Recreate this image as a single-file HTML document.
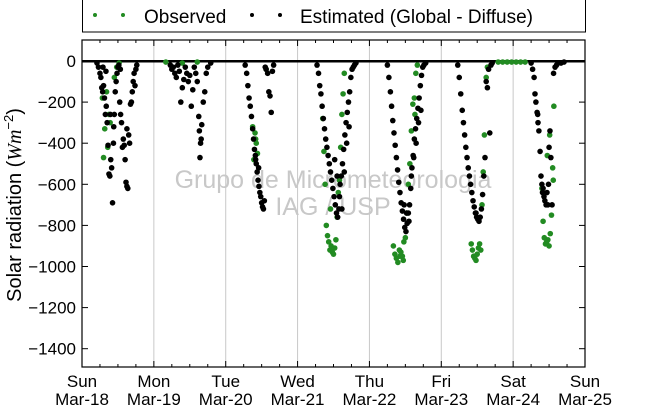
<!DOCTYPE html>
<html><head><meta charset="utf-8"><style>
body{margin:0;background:#fff;font-family:"Liberation Sans","DejaVu Sans",sans-serif}
svg text{font-family:"Liberation Sans","DejaVu Sans",sans-serif}
</style></head><body>
<svg id="c" width="650" height="409" xmlns="http://www.w3.org/2000/svg">
<rect width="650" height="409" fill="#fff"/>
<g>
<rect x="82.5" y="-1" width="503" height="33" fill="#fff" stroke="#000" stroke-width="1"/>
<circle cx="95" cy="15" r="2" fill="#228b22"/><circle cx="123" cy="15" r="2" fill="#228b22"/>
<text x="144" y="23" font-size="19">Observed</text>
<circle cx="252" cy="15" r="2" fill="#000"/><circle cx="280" cy="15" r="2" fill="#000"/>
<text x="300" y="23" font-size="19">Estimated (Global - Diffuse)</text>
</g>
<g id="grid"></g>
<text x="333" y="188" text-anchor="middle" font-size="25" fill="#c8c8c8">Grupo de Micrometeorologia</text>
<text x="333" y="215" text-anchor="middle" font-size="25" fill="#c8c8c8">IAG / USP</text>
<rect x="82" y="60" width="503" height="2.5" fill="#000"/>
<g id="obs"></g><g id="est"></g>
<rect x="82" y="40" width="503" height="327" fill="none" stroke="#000" stroke-width="1.2"/>
<g id="axes"></g>
<text transform="translate(21,205) rotate(-90)" text-anchor="middle" font-size="20">Solar radiation (<tspan font-style="italic" font-family="Liberation Serif">Wm</tspan><tspan dy="-8" font-size="13">−2</tspan><tspan dy="8">)</tspan></text>
</svg>
<script>
const yTicks=[0,-200,-400,-600,-800,-1000,-1200,-1400];
const dayLabels=["Sun","Mon","Tue","Wed","Thu","Fri","Sat","Sun"];
const dateLabels=["Mar-18","Mar-19","Mar-20","Mar-21","Mar-22","Mar-23","Mar-24","Mar-25"];
const estT=[
5,5.5,6,6.3,6.6,6.9,7.2,7.5,7.8,8.1,
8.4,8.7,9,9.3,9.6,9.9,10.2,10.5,10.8,11.1,
11.4,11.7,12,12.3,12.6,12.9,13.2,13.5,13.8,14.1,
14.4,14.7,15,15.3,15.6,15.9,16.2,16.5,16.8,17.1,
17.4,17.7,18,18.3,7,8,9.5,10.6,12.8,15,
29.5,30,30.5,31,31.5,32,32.5,33,33.5,34,
34.5,35,35.5,36,36.5,37,37.5,38,38.5,39,
39.2,39.4,39.6,39.8,40,40.5,41,41.5,42,43,
54.5,55,55.4,55.8,56.2,56.6,57,57.3,57.6,57.9,
58.2,58.5,58.8,59.1,59.4,59.7,60,60.3,60.6,60.9,
61.2,61.5,62,62.4,62.8,63.2,63.6,64,59,58,
78.5,79,79.4,79.8,80.2,80.6,81,81.4,81.8,82.2,
82.6,83,83.4,83.8,84.2,84.6,85,85.4,85.8,86.2,
86.6,87,87.4,87.8,88.2,88.6,89,89.4,89.8,90.2,
84.4,85.2,86,86.8,87.6,88.4,89.2,90.6,91,91.5,
102,102.5,103,103.4,103.8,104.2,104.6,105,105.4,105.8,
106.2,106.6,107,107.4,107.8,108.2,108.6,109,109.4,109.8,
110.2,110.6,111,111.4,111.8,112.2,112.6,113,113.4,113.8,
107.6,108.4,109.2,110,110.8,111.6,112.4,113.2,114.2,114.8,
125.5,126,126.5,127,127.4,127.8,128.2,128.6,129,129.4,
129.8,130.2,130.6,131,131.4,131.8,132.2,132.6,133,133.4,
133.8,134.2,134.6,135,135.4,135.8,136.2,136.6,137,131.6,
150,150.5,151,151.3,151.6,152,152.3,152.6,153,153.3,
153.6,154,154.3,154.6,155,155.3,155.6,156,156.3,156.6,
157,157.5,158,158.5,159,152.2,153.8,155.8,160,161];
const estV=[
-10,-30,-60,-80,-130,-150,-120,-180,-260,-220,
-300,-410,-550,-560,-480,-520,-690,-400,-260,-150,
-100,-60,-30,-20,-200,-260,-300,-420,-380,-410,
-480,-590,-610,-620,-360,-400,-210,-200,-150,-100,
-60,-120,-40,-20,-30,-50,-260,-320,-40,-330,
-20,-40,-30,-60,-80,-20,-50,-200,-130,-90,
-30,-60,-100,-70,-220,-140,-30,-60,-100,-270,
-340,-470,-400,-380,-310,-200,-150,-60,-30,-10,
-20,-60,-120,-180,-220,-270,-330,-380,-430,-460,
-500,-540,-580,-610,-640,-660,-690,-710,-720,-680,
-30,-40,-60,-150,-170,-250,-50,-20,-520,-480,
-20,-60,-120,-160,-220,-280,-330,-380,-420,-460,
-500,-540,-580,-620,-660,-700,-740,-760,-720,-600,
-560,-500,-430,-360,-300,-250,-200,-150,-80,-40,
-480,-560,-660,-720,-540,-400,-320,-30,-20,-10,
-20,-80,-150,-220,-290,-350,-410,-470,-530,-590,
-640,-690,-730,-770,-810,-830,-790,-740,-700,-620,
-520,-460,-380,-330,-280,-230,-180,-120,-70,-30,
-700,-740,-780,-560,-470,-400,-300,-240,-20,-10,
-20,-80,-160,-240,-300,-360,-420,-470,-520,-560,
-600,-640,-680,-710,-740,-760,-770,-780,-760,-720,
-650,-560,-470,-100,-130,-40,-350,-20,-10,-740,
-10,-40,-80,-160,-200,-250,-300,-340,-440,-560,
-600,-620,-660,-680,-700,-640,-700,-420,-340,-470,
-700,-60,-30,-20,-10,-260,-640,-600,-10,-5];
const obsT=[
6.8,7.2,7.6,8.2,8.6,9,9.4,10.8,11.6,12.4,
28,33.5,38.5,57,57.4,57.8,58.2,58,58.6,61.5,
80.4,80.8,81.2,81.6,82,82.4,82.8,83.2,83.6,84,
84.4,84.8,85.2,85.6,86,86.4,86.8,87.2,87.6,83,
104,104.5,105,105.5,106,106.5,107,107.5,108,108.5,
109,109.5,110,110.5,111,111.5,112,106.2,107.3,111.2,
130,130.4,130.8,131.2,131.6,132,132.4,132.8,133.2,133.6,
134,134.4,135,135.4,139,140.5,142,143.5,145,146.5,
148,153.6,154,154.4,154.8,155.2,155.6,156,156.4,156.8,
157.2,157.6,156.2,155.4,157.4];
const obsV=[
-180,-470,-330,-150,-420,-260,-300,-80,-30,-10,
-5,-10,-5,-320,-480,-350,-400,-380,-450,-40,
-280,-440,-600,-800,-850,-880,-920,-900,-930,-940,
-910,-870,-760,-640,-580,-420,-260,-160,-60,-720,
-900,-940,-960,-980,-920,-930,-950,-880,-860,-740,
-600,-500,-340,-210,-180,-60,-20,-950,-970,-260,
-890,-920,-950,-960,-970,-940,-910,-890,-920,-700,
-540,-360,-80,-30,-5,-5,-5,-5,-5,-5,
-5,-620,-780,-860,-890,-880,-870,-900,-840,-750,
-520,-220,-360,-460,-580];

const ns="http://www.w3.org/2000/svg";
const X0=82,X1=585,Y0=40,Y1=367;
const xs=t=>X0+t*(X1-X0)/168;
const ys=v=>61-v*(41.1/200);
function mk(tag,attrs,parent){const e=document.createElementNS(ns,tag);for(const k in attrs)e.setAttribute(k,attrs[k]);parent.appendChild(e);return e;}
const grid=document.getElementById('grid'),axes=document.getElementById('axes');
for(let d=1;d<7;d++){
  const g=mk('line',{x1:xs(d*24),x2:xs(d*24),y1:Y0,y2:Y1,stroke:'#c8c8c8','stroke-width':1},grid);
  
  
}
for(let h=0;h<=168;h+=6){
  const len=h%24===0?6:3;
  mk('line',{x1:xs(h),x2:xs(h),y1:Y1,y2:Y1-len,stroke:'#000'},axes);
  mk('line',{x1:xs(h),x2:xs(h),y1:Y0,y2:Y0+len,stroke:'#000'},axes);
}
yTicks.forEach(v=>{
  mk('line',{x1:X0,x2:X0+6,y1:ys(v),y2:ys(v),stroke:'#000'},axes);
  mk('line',{x1:X1,x2:X1-6,y1:ys(v),y2:ys(v),stroke:'#000'},axes);
  const t=mk('text',{x:X0-6,y:ys(v)+6,'text-anchor':'end','font-size':17},axes);
  t.textContent=v===0?'0':'−'+Math.abs(v);
  
  
});
dayLabels.forEach((lb,i)=>{
  const t=mk('text',{x:xs(i*24),y:387,'text-anchor':'middle','font-size':17},axes);
  t.textContent=lb;
  
  
  const t2=mk('text',{x:xs(i*24),y:405,'text-anchor':'middle','font-size':17},axes);
  t2.textContent=dateLabels[i];
  
  
});
const og=document.getElementById('obs');
obsT.forEach((t,i)=>{
  if(obsV[i]===undefined)return;
  const c=mk('circle',{cx:xs(t),cy:ys(obsV[i]),r:2.8,fill:'#228b22'},og);
  
  
});
const eg=document.getElementById('est');
estT.forEach((t,i)=>{
  if(estV[i]===undefined)return;
  const c=mk('circle',{cx:xs(t),cy:ys(estV[i]),r:2.8,fill:'#000'},eg);
  
  
});
</script>
</body></html>
